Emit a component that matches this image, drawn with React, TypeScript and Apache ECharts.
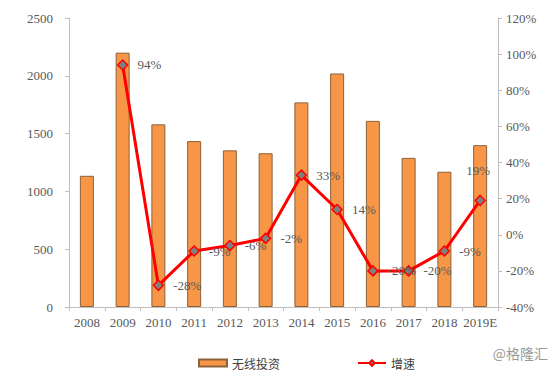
import React, { useEffect, useRef } from "react";
import * as echarts from "echarts";

const categories = ["2008", "2009", "2010", "2011", "2012", "2013", "2014", "2015", "2016", "2017", "2018", "2019E"];
const investment = [1135, 2200, 1580, 1435, 1355, 1330, 1770, 2020, 1610, 1290, 1170, 1400];
const growth: (number | null)[] = [null, 94, -28, -9, -6, -2, 33, 14, -20, -20, -9, 19];
const leftTicks = { min: 0, max: 2500, interval: 500 };
const rightTicks = { min: -40, max: 120, interval: 20 };

const serif = "'Liberation Serif', 'DejaVu Serif', serif";
const cjk = "'Noto Sans CJK SC', sans-serif";

export default function App() {
  const ref = useRef<HTMLDivElement>(null);
  useEffect(() => {
    if (!ref.current) return;
    const chart = echarts.init(ref.current, undefined, { renderer: "svg" });
    const axisLabel = { color: "#595959", fontFamily: serif, fontSize: 13 };
    const lineData = growth.map((v, i) =>
      i === growth.length - 1
        ? { value: v, label: { position: "top", distance: 18, offset: [-2, 0] } }
        : v
    );
    chart.setOption({
      animation: false,
      backgroundColor: "#ffffff",
      grid: { left: 69, right: 56, top: 18, bottom: 66 },
      legend: {
        left: 193,
        top: 352,
        itemGap: 77,
        itemWidth: 28,
        itemHeight: 7,
        textStyle: { fontFamily: cjk, fontSize: 12, color: "#404040" },
        data: [
          { name: "无线投资", icon: "rect" },
          { name: "增速" },
        ],
      },
      xAxis: {
        type: "category",
        data: categories,
        boundaryGap: true,
        axisLine: { lineStyle: { color: "#BFBFBF", width: 1 } },
        axisTick: { show: true, length: 4, lineStyle: { color: "#BFBFBF" } },
        axisLabel: { ...axisLabel, margin: 9, interval: 0 },
      },
      yAxis: [
        {
          type: "value",
          ...leftTicks,
          splitLine: { show: false },
          axisLine: { show: true, lineStyle: { color: "#BFBFBF" } },
          axisTick: { show: true, length: 4, lineStyle: { color: "#BFBFBF" } },
          axisLabel: { ...axisLabel, margin: 16, formatter: (v: number) => String(v) },
        },
        {
          type: "value",
          ...rightTicks,
          position: "right",
          splitLine: { show: false },
          axisLine: { show: true, lineStyle: { color: "#BFBFBF" } },
          axisTick: { show: true, length: 4, lineStyle: { color: "#BFBFBF" } },
          axisLabel: { ...axisLabel, margin: 8, formatter: "{value}%" },
        },
      ],
      series: [
        {
          name: "无线投资",
          type: "bar",
          data: investment,
          barWidth: 14,
          itemStyle: { color: "#F79646", borderColor: "#8C6239", borderWidth: 1 },
        },
        {
          name: "增速",
          type: "line",
          yAxisIndex: 1,
          data: lineData,
          symbol: "diamond",
          symbolSize: 10,
          lineStyle: { color: "#FF0000", width: 3 },
          itemStyle: { color: "#808080", borderColor: "#FF0000", borderWidth: 1.5 },
          label: {
            show: true,
            position: "right",
            distance: 9,
            formatter: (p: any) => `${p.value}%`,
            color: "#595959",
            fontFamily: serif,
            fontSize: 13,
          },
        },
      ],
      graphic: [
        {
          type: "text",
          right: 6,
          top: 346,
          style: { text: "@格隆汇", fill: "#999999", font: `14px ${cjk}` },
        },
      ],
    });
    return () => chart.dispose();
  }, []);
  return <div ref={ref} style={{ width: 554, height: 373, position: "absolute", left: 0, top: 0 }} />;
}
